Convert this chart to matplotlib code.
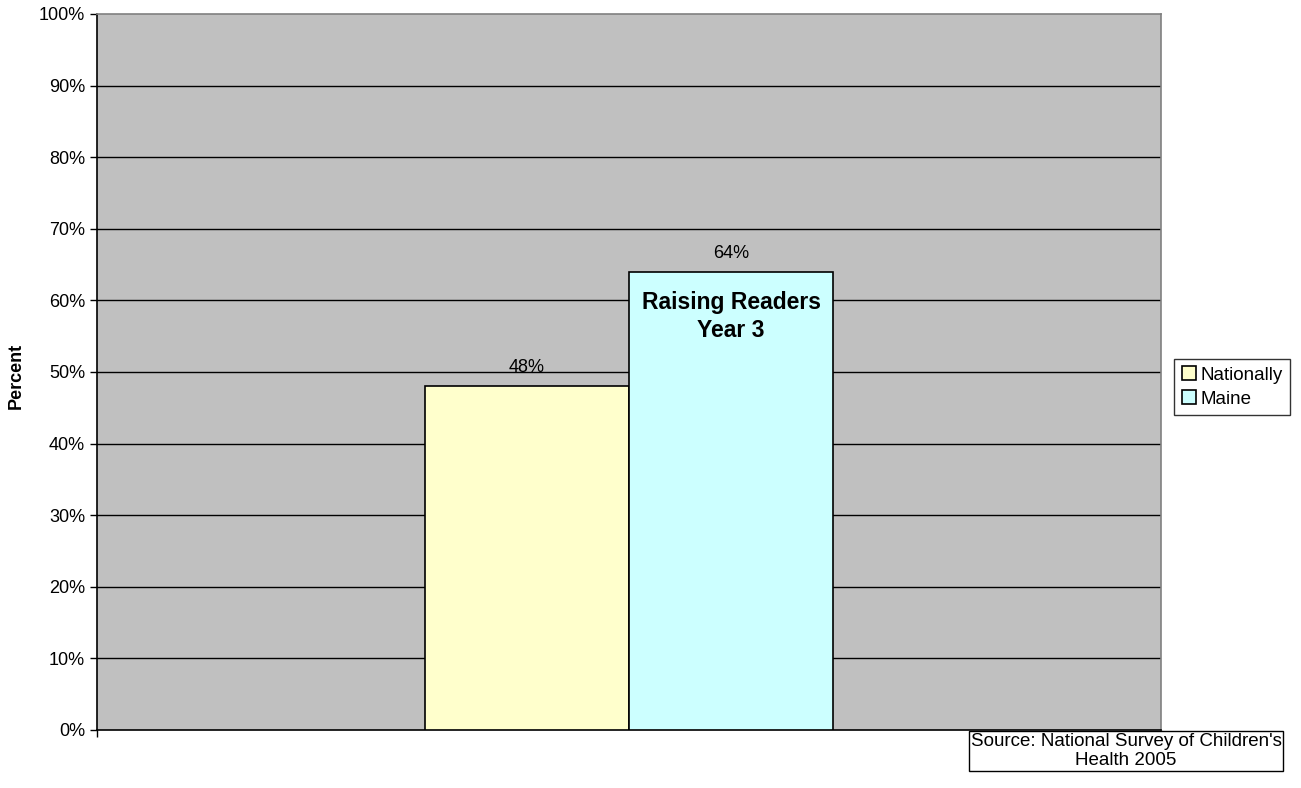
import matplotlib
matplotlib.use('Agg')
import matplotlib.pyplot as plt
import numpy as np

plt.rcParams['font.family'] = ['Liberation Sans', 'DejaVu Sans']

# data
series = ['Nationally', 'Maine']
values = [48, 64]
colors = ['#ffffcc', '#ccffff']
yticks = np.arange(0, 101, 10)

fig = plt.figure(figsize=(13.01, 7.88), dpi=100)
ax = fig.add_axes([97/1301, 1-730/788, (1161-97)/1301, (730-14)/788])
ax.set_facecolor('#c0c0c0')

width = 0.192
offsets = [-width/2, width/2]
bars = []
for name, v, c, off in zip(series, values, colors, offsets):
    b = ax.bar(off, v, width=width, color=c, edgecolor='black', linewidth=1.2,
               label=name, zorder=3)
    bars.append(b)
    ax.text(off, v + 1.4, '%d%%' % v, ha='center', va='bottom', fontsize=13, zorder=4)

# annotation inside the Maine bar
ax.text(offsets[1], 61.3, 'Raising Readers\nYear 3', ha='center', va='top',
        fontsize=16.5, fontweight='bold', linespacing=1.25, zorder=4)

ax.set_xlim(-0.5, 0.5)
ax.set_ylim(0, 100)
ax.set_yticks(yticks)
ax.set_yticklabels(['%d%%' % t for t in yticks], fontsize=13)
ax.set_xticks([-0.5, 0.5])
ax.set_xticklabels(['', ''])
ax.tick_params(direction='out', length=5, width=1)

for t in yticks[1:-1]:
    ax.axhline(t, color='black', linewidth=1, zorder=1)

ax.spines['top'].set_color('#808080')
ax.spines['right'].set_color('#808080')
ax.spines['left'].set_color('black')
ax.spines['bottom'].set_color('black')
for s in ax.spines.values():
    s.set_linewidth(1.2)

fig.text(16/1301, 1-376/788, 'Percent', rotation=90, ha='center', va='center',
         fontsize=13, fontweight='bold')

leg = fig.legend(handles=[b[0] for b in bars], labels=series, loc='center',
                 bbox_to_anchor=(1232/1301, 1-387/788), fontsize=13.5,
                 frameon=True, fancybox=False, edgecolor='black',
                 handlelength=0.75, handleheight=0.75, handletextpad=0.25,
                 borderpad=0.4, labelspacing=0.35, borderaxespad=0)
leg.get_frame().set_linewidth(1)

fig.text(1126/1301, 1-751/788, "Source: National Survey of Children's\nHealth 2005",
         ha='center', va='center', fontsize=13.5, linespacing=1.1,
         bbox=dict(boxstyle='square,pad=0.1', facecolor='white', edgecolor='black', linewidth=1))

fig.savefig('out.png', dpi=100)
